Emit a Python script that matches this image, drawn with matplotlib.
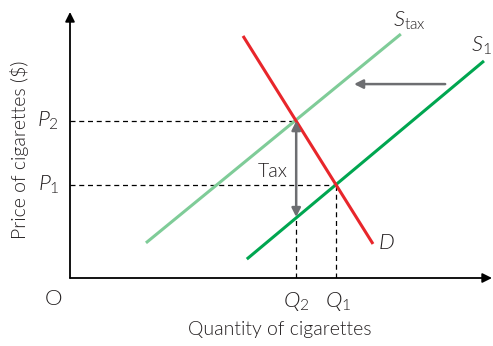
import matplotlib
matplotlib.use("Agg")
import matplotlib.pyplot as plt

plt.rcParams["font.family"] = ["Lato", "DejaVu Sans"]
plt.rcParams["font.weight"] = 300
plt.rcParams["mathtext.fontset"] = "custom"
plt.rcParams["mathtext.rm"] = "Lato:weight=300"
plt.rcParams["mathtext.it"] = "Lato:italic:weight=300"

# curve end points (quantity, price)
demand_q = [4.10, 7.18]
demand_p = [9.10, 1.28]
supply_q = [4.19, 9.81]
supply_p = [0.71, 8.16]
stax_q = [1.80, 7.84]
stax_p = [1.32, 9.17]

# equilibrium values
q1, p1 = 6.30, 3.50
q2, p2 = 5.36, 5.90
s1_at_q2 = 2.29
shift_y, shift_from, shift_to = 7.29, 8.89, 6.73

red = "#e8262b"
green = "#00a650"
light_green = "#7fcc98"
grey = "#6d6e71"
txt = "#231f20"

fig = plt.figure(figsize=(4.93, 3.46), dpi=100)
ax = fig.add_axes([70 / 493, 68 / 346, 422 / 493, 266 / 346])
ax.set_xlim(0, 10)
ax.set_ylim(0, 10)
ax.axis("off")

# axes with arrow heads
ax.annotate("", xy=(10, 0), xytext=(0, 0),
            arrowprops=dict(arrowstyle="-|>", color="black", lw=1.3,
                            mutation_scale=14, shrinkA=0, shrinkB=0))
ax.annotate("", xy=(0, 10), xytext=(0, 0),
            arrowprops=dict(arrowstyle="-|>", color="black", lw=1.3,
                            mutation_scale=14, shrinkA=0, shrinkB=0))

# dashed guides
ax.plot([0, q2], [p2, p2], ls=(0, (4, 3)), color="black", lw=0.9)
ax.plot([0, q1], [p1, p1], ls=(0, (4, 3)), color="black", lw=0.9)
ax.plot([q2, q2], [0, s1_at_q2], ls=(0, (4, 3)), color="black", lw=0.9)
ax.plot([q1, q1], [0, p1], ls=(0, (4, 3)), color="black", lw=0.9)

# curves
ax.plot(stax_q, stax_p, color=light_green, lw=2.2, solid_capstyle="butt")
ax.plot(supply_q, supply_p, color=green, lw=2.2, solid_capstyle="butt")
ax.plot(demand_q, demand_p, color=red, lw=2.2, solid_capstyle="butt")

# tax arrow and shift arrow
ax.annotate("", xy=(q2, s1_at_q2), xytext=(q2, p2),
            arrowprops=dict(arrowstyle="<|-|>", color=grey, lw=1.8,
                            mutation_scale=13, shrinkA=0, shrinkB=0))
ax.annotate("", xy=(shift_to, shift_y), xytext=(shift_from, shift_y),
            arrowprops=dict(arrowstyle="-|>", color=grey, lw=1.8,
                            mutation_scale=13, shrinkA=0, shrinkB=0))

fs = 16
ax.text(-0.25, p2, r"$\mathit{P}_{2}$", fontsize=fs, ha="right", va="center", color=txt)
ax.text(-0.25, p1, r"$\mathit{P}_{1}$", fontsize=fs, ha="right", va="center", color=txt)
ax.text(q2, -0.45, r"$\mathit{Q}_{2}$", fontsize=fs, ha="center", va="top", color=txt)
ax.text(q1 + 0.05, -0.45, r"$\mathit{Q}_{1}$", fontsize=fs, ha="center", va="top", color=txt)
ax.text(-0.38, -0.4, "O", fontsize=fs, ha="center", va="top", color=txt)
ax.text(7.65, 9.25, r"$\mathit{S}_{\mathrm{tax}}$", fontsize=fs, ha="left", va="bottom", color=txt)
ax.text(9.5, 8.3, r"$\mathit{S}_{1}$", fontsize=fs, ha="left", va="bottom", color=txt)
ax.text(7.3, 1.3, r"$\mathit{D}$", fontsize=fs, ha="left", va="center", color=txt)
ax.text(q2 - 0.2, 4.0, "Tax", fontsize=14, ha="right", va="center", color=txt)

fig.text(280 / 493, 1 - 330 / 346, "Quantity of cigarettes", fontsize=14,
         ha="center", va="center", color=txt)
fig.text(20 / 493, 1 - 150 / 346, "Price of cigarettes ($)", fontsize=14,
         ha="center", va="center", rotation=90, color=txt)

fig.savefig("out.png", dpi=100)
